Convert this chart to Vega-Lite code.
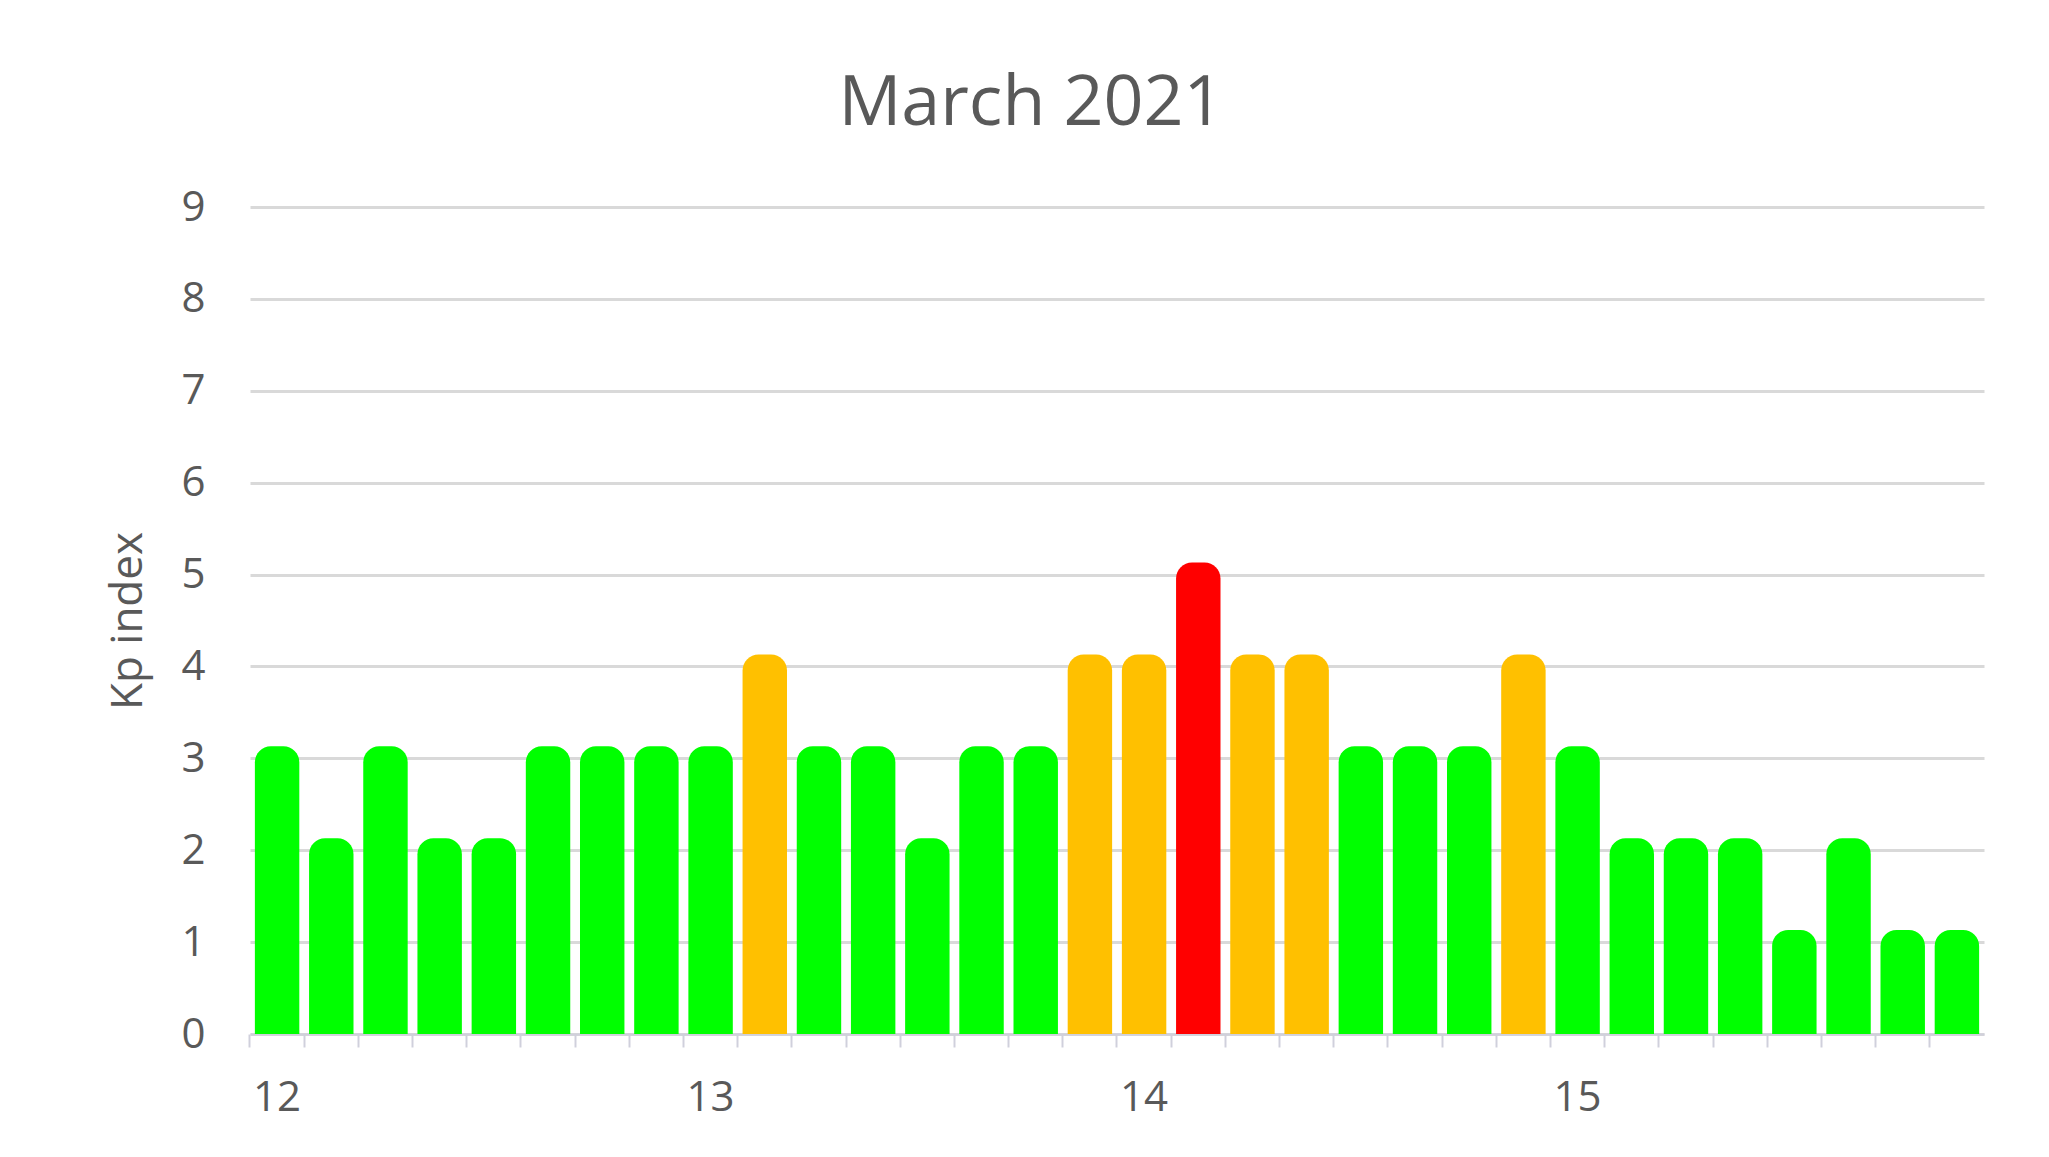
{
  "$schema": "https://vega.github.io/schema/vega-lite/v6.json",
  "autosize": "none",
  "width": 1734,
  "height": 827,
  "padding": {"left": 250, "top": 207, "right": 65, "bottom": 123},
  "background": "white",
  "title": {
    "text": "March 2021",
    "font": "Open Sans",
    "fontSize": 70,
    "fontWeight": "normal",
    "color": "#595959",
    "anchor": "middle",
    "frame": "group",
    "dx": -86,
    "offset": 46
  },
  "data": {
    "values": [
      {"slot": "12 00", "kp": 3, "level": "quiet"},
      {"slot": "12 03", "kp": 2, "level": "quiet"},
      {"slot": "12 06", "kp": 3, "level": "quiet"},
      {"slot": "12 09", "kp": 2, "level": "quiet"},
      {"slot": "12 12", "kp": 2, "level": "quiet"},
      {"slot": "12 15", "kp": 3, "level": "quiet"},
      {"slot": "12 18", "kp": 3, "level": "quiet"},
      {"slot": "12 21", "kp": 3, "level": "quiet"},
      {"slot": "13 00", "kp": 3, "level": "quiet"},
      {"slot": "13 03", "kp": 4, "level": "active"},
      {"slot": "13 06", "kp": 3, "level": "quiet"},
      {"slot": "13 09", "kp": 3, "level": "quiet"},
      {"slot": "13 12", "kp": 2, "level": "quiet"},
      {"slot": "13 15", "kp": 3, "level": "quiet"},
      {"slot": "13 18", "kp": 3, "level": "quiet"},
      {"slot": "13 21", "kp": 4, "level": "active"},
      {"slot": "14 00", "kp": 4, "level": "active"},
      {"slot": "14 03", "kp": 5, "level": "storm"},
      {"slot": "14 06", "kp": 4, "level": "active"},
      {"slot": "14 09", "kp": 4, "level": "active"},
      {"slot": "14 12", "kp": 3, "level": "quiet"},
      {"slot": "14 15", "kp": 3, "level": "quiet"},
      {"slot": "14 18", "kp": 3, "level": "quiet"},
      {"slot": "14 21", "kp": 4, "level": "active"},
      {"slot": "15 00", "kp": 3, "level": "quiet"},
      {"slot": "15 03", "kp": 2, "level": "quiet"},
      {"slot": "15 06", "kp": 2, "level": "quiet"},
      {"slot": "15 09", "kp": 2, "level": "quiet"},
      {"slot": "15 12", "kp": 1, "level": "quiet"},
      {"slot": "15 15", "kp": 2, "level": "quiet"},
      {"slot": "15 18", "kp": 1, "level": "quiet"},
      {"slot": "15 21", "kp": 1, "level": "quiet"}
    ]
  },
  "mark": {"type": "bar", "cornerRadiusTopLeft": 16, "cornerRadiusTopRight": 16, "yOffset": -12, "y2Offset": 0},
  "encoding": {
    "x": {
      "field": "slot",
      "type": "ordinal",
      "scale": {"paddingInner": 0.18, "paddingOuter": 0.09},
      "axis": {
        "title": null,
        "labelAngle": 0,
        "labelExpr": "slice(datum.value, 3) == '00' ? slice(datum.value, 0, 2) : ''",
        "bandPosition": -0.11,
        "labelFont": "Open Sans",
        "labelFontSize": 42,
        "labelColor": "#595959",
        "labelPadding": 30,
        "tickSize": 13,
        "tickColor": "#D0D0DC",
        "tickWidth": 2,
        "domainColor": "#D0D0DC",
        "domainWidth": 2,
        "grid": false
      }
    },
    "y": {
      "field": "kp",
      "type": "quantitative",
      "stack": null,
      "scale": {"domain": [0, 9], "nice": false},
      "axis": {
        "title": "Kp index",
        "titleFont": "Open Sans",
        "titleFontSize": 44,
        "titleFontWeight": "normal",
        "titleColor": "#595959",
        "titlePadding": 30,
        "values": [0, 1, 2, 3, 4, 5, 6, 7, 8, 9],
        "labelFont": "Open Sans",
        "labelFontSize": 42,
        "labelColor": "#595959",
        "labelPadding": 45,
        "ticks": false,
        "domain": false,
        "grid": true,
        "gridColor": "#D9D9D9",
        "gridWidth": 3
      }
    },
    "y2": {"datum": 0},
    "color": {
      "field": "level",
      "type": "nominal",
      "scale": {"domain": ["quiet", "active", "storm"], "range": ["#00FF00", "#FFC000", "#FF0000"]},
      "legend": null
    }
  },
  "config": {"view": {"stroke": null}}
}
